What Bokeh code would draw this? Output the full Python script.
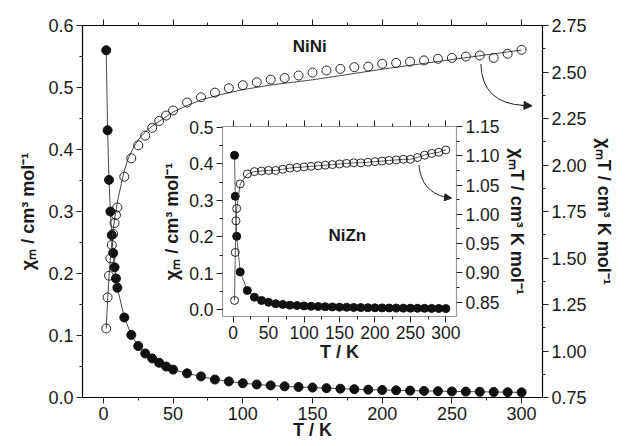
from bokeh.plotting import figure
from bokeh.models import (Range1d, LinearAxis, FixedTicker, NumeralTickFormatter,
                          Arrow, NormalHead, Label)
from bokeh.layouts import column
from bokeh.embed import file_html
from bokeh.resources import INLINE

# ---------------- data ----------------
T_main = [2, 3, 4, 5, 6, 7, 8, 9, 10, 15, 20, 25, 30, 35, 40, 45, 50,
          60, 70, 80, 90, 100, 110, 120, 130, 140, 150, 160, 170, 180, 190,
          200, 210, 220, 230, 240, 250, 260, 270, 280, 290, 300]
chi_main = [0.560, 0.431, 0.351, 0.300, 0.262, 0.233, 0.210, 0.192, 0.177,
            0.129, 0.101, 0.083, 0.071, 0.063, 0.056, 0.050, 0.045,
            0.039, 0.034, 0.029, 0.026, 0.023, 0.021, 0.0195, 0.018, 0.017,
            0.016, 0.0151, 0.0142, 0.0134, 0.0127, 0.0121, 0.0116, 0.0111,
            0.0106, 0.0102, 0.0098, 0.0095, 0.0092, 0.0089, 0.0086, 0.0083]
chiT_main = [1.121, 1.288, 1.405, 1.498, 1.570, 1.629, 1.688, 1.731, 1.772,
             1.937, 2.036, 2.106, 2.158, 2.200, 2.237, 2.266, 2.293,
             2.336, 2.364, 2.389, 2.413, 2.429, 2.445, 2.459, 2.468, 2.481,
             2.497, 2.508, 2.517, 2.526, 2.529, 2.544, 2.549, 2.556, 2.562,
             2.571, 2.576, 2.583, 2.589, 2.576, 2.598, 2.619]
T_fit = [2, 3, 4, 5, 6, 7, 8, 10, 12, 15, 18, 22, 26, 31, 36, 42, 50, 60,
         70, 85, 100, 120, 150, 200, 250, 300]
chiT_fit = [1.12, 1.27, 1.40, 1.50, 1.58, 1.65, 1.71, 1.80, 1.87, 1.97, 2.04,
            2.10, 2.145, 2.185, 2.215, 2.245, 2.285, 2.32, 2.35, 2.38, 2.405,
            2.43, 2.458, 2.515, 2.567, 2.618]

T_in_chi = [2, 3, 5, 10, 20, 30, 40, 50, 60, 70, 80, 90, 100, 110, 120, 130,
            140, 150, 160, 170, 180, 190, 200, 210, 220, 230, 240, 250, 260,
            270, 280, 290, 300]
chi_in = [0.423, 0.311, 0.2015, 0.104, 0.053, 0.035, 0.026, 0.021, 0.017,
          0.015, 0.013, 0.012, 0.011, 0.0100, 0.0093, 0.0087, 0.0081, 0.0076,
          0.0072, 0.0068, 0.0064, 0.0061, 0.0058, 0.0056, 0.0053, 0.0051,
          0.0049, 0.0047, 0.0045, 0.0043, 0.0041, 0.0039, 0.0037]
T_in_chiT = [2, 3, 4, 5, 10, 20, 30, 40, 50, 60, 70, 80, 90, 100, 110, 120,
             130, 140, 150, 160, 170, 180, 190, 200, 210, 220, 230, 240, 250,
             260, 270, 280, 290, 300]
chiT_in = [0.853, 0.935, 0.989, 1.010, 1.052, 1.069, 1.073, 1.074, 1.075,
           1.075, 1.077, 1.079, 1.080, 1.081, 1.082, 1.083, 1.084, 1.085,
           1.086, 1.087, 1.088, 1.088, 1.089, 1.090, 1.091, 1.092, 1.093,
           1.094, 1.094, 1.097, 1.101, 1.104, 1.106, 1.110]

x_ticks = [0, 50, 100, 150, 200, 250, 300]
x_minor = [-25, 25, 75, 125, 175, 225, 275, 325]
main_left_ticks = [0.0, 0.1, 0.2, 0.3, 0.4, 0.5, 0.6]
main_right_ticks = [0.75, 1.00, 1.25, 1.50, 1.75, 2.00, 2.25, 2.50, 2.75]
in_left_ticks = [0.0, 0.1, 0.2, 0.3, 0.4, 0.5]
in_right_ticks = [0.85, 0.90, 0.95, 1.00, 1.05, 1.10, 1.15]

FONT = "Liberation Sans"
TXT = "#1a1a1a"


def style_axis(ax, ticks, minor, fmt=None, color="black", font="18px",
               title_font="18px"):
    ax.ticker = FixedTicker(ticks=ticks, minor_ticks=minor)
    if fmt:
        ax.formatter = NumeralTickFormatter(format=fmt)
    ax.axis_line_color = color
    ax.axis_line_width = 1.2
    ax.major_tick_line_color = "#222"
    ax.minor_tick_line_color = "#222"
    ax.major_tick_out = 6
    ax.major_tick_in = 0
    ax.minor_tick_out = 3
    ax.minor_tick_in = 0
    ax.major_label_text_font = FONT
    ax.major_label_text_font_size = font
    ax.major_label_text_color = TXT
    ax.axis_label_text_font = FONT
    ax.axis_label_text_font_style = "bold"
    ax.axis_label_text_font_size = title_font
    ax.axis_label_text_color = TXT
    ax.major_label_standoff = 3


# ---------------- main figure ----------------
p = figure(frame_width=460, frame_height=372, output_backend="svg",
           toolbar_location=None,
           x_range=Range1d(-15, 315), y_range=Range1d(0, 0.6),
           min_border_left=82, min_border_right=60, min_border_top=25,
           min_border_bottom=49)
p.extra_y_ranges = {"r": Range1d(0.75, 2.75)}
p.grid.visible = False
p.outline_line_color = None

style_axis(p.xaxis[0], x_ticks, x_minor)
p.xaxis[0].axis_label = "T / K"
p.xaxis[0].axis_label_standoff = -3
style_axis(p.yaxis[0], main_left_ticks,
           [0.05, 0.15, 0.25, 0.35, 0.45, 0.55], "0.0")
p.yaxis[0].axis_label = "χₘ / cm³ mol⁻¹"
p.yaxis[0].axis_label_standoff = 7

ax_r = LinearAxis(y_range_name="r")
style_axis(ax_r, main_right_ticks,
           [0.875, 1.125, 1.375, 1.625, 1.875, 2.125, 2.375, 2.625], "0.00")
ax_r.axis_label = "χₘT / cm³ K mol⁻¹"
ax_r.axis_label_standoff = 4
p.add_layout(ax_r, "right")

ax_t = LinearAxis()
style_axis(ax_t, x_ticks, x_minor)
ax_t.major_label_overrides = {t: "" for t in x_ticks}
p.add_layout(ax_t, "above")

p.line(T_main, chi_main, line_color="#333", line_width=0.9)
p.scatter(T_main, chi_main, size=9, marker="circle", fill_color="#111",
          line_color="#111")
p.line(T_fit, chiT_fit, y_range_name="r", line_color="#333", line_width=0.9)
p.scatter(T_main, chiT_main, y_range_name="r", size=9, marker="circle",
          fill_alpha=0, line_color="#111", line_width=0.9)

p.quadratic(x0=[270.8], y0=[0.538], x1=[302.0], y1=[0.471], cx=[271.5],
            cy=[0.474], line_color="#222", line_width=1)
p.add_layout(Arrow(end=NormalHead(size=8, fill_color="#222",
                                  line_color="#222"),
                   x_start=300, y_start=0.4712, x_end=307.5, y_end=0.4705,
                   line_color="#222", line_width=1))

p.add_layout(Label(x=148, y=0.566, text="NiNi", text_font=FONT,
                   text_font_style="bold", text_font_size="17px",
                   text_color=TXT, text_align="center",
                   text_baseline="middle"))

# ---------------- inset figure ----------------
q = figure(frame_width=234, frame_height=190, output_backend="svg",
           toolbar_location=None,
           x_range=Range1d(-15, 315), y_range=Range1d(-0.018, 0.502),
           min_border_left=82, min_border_right=60, min_border_top=10,
           min_border_bottom=56,
           styles={"position": "absolute", "left": "140px", "top": "116px"})
q.background_fill_alpha = 0
q.border_fill_alpha = 0
q.extra_y_ranges = {"r": Range1d(0.8256, 1.15)}
q.grid.visible = False
q.outline_line_color = None

GR = "#9a9a9a"
IF = "17.5px"
style_axis(q.xaxis[0], x_ticks, x_minor, color=GR, font=IF)
q.xaxis[0].axis_label = "T / K"
q.xaxis[0].axis_label_standoff = 0
style_axis(q.yaxis[0], in_left_ticks, [0.05, 0.15, 0.25, 0.35, 0.45], "0.0",
           color=GR, font=IF)
q.yaxis[0].axis_label = "χₘ / cm³ mol⁻¹"
q.yaxis[0].axis_label_standoff = 4
qr = LinearAxis(y_range_name="r")
style_axis(qr, in_right_ticks, [0.875, 0.925, 0.975, 1.025, 1.075, 1.125],
           "0.00", color=GR, font=IF)
qr.axis_label = "χₘT / cm³ K mol⁻¹"
qr.axis_label_standoff = 4
q.add_layout(qr, "right")
qt = LinearAxis()
style_axis(qt, x_ticks, x_minor, color=GR, font=IF)
qt.major_label_overrides = {t: "" for t in x_ticks}
q.add_layout(qt, "above")

q.line(T_in_chi, chi_in, line_color="#333", line_width=0.8)
q.scatter(T_in_chi, chi_in, size=8, marker="circle", fill_color="#111",
          line_color="#111")
q.line(T_in_chiT, chiT_in, y_range_name="r", line_color="#333",
       line_width=0.8)
q.scatter(T_in_chiT, chiT_in, y_range_name="r", size=8, marker="circle",
          fill_alpha=0, line_color="#111", line_width=0.9)

q.quadratic(x0=[262], y0=[1.0846], x1=[300], y1=[1.029], cx=[265],
            cy=[1.039], line_color="#222", line_width=1, y_range_name="r")
q.add_layout(Arrow(end=NormalHead(size=7, fill_color="#222",
                                  line_color="#222"),
                   x_start=298, y_start=1.0292, x_end=308, y_end=1.0276,
                   line_color="#222", line_width=1, y_range_name="r"))
q.add_layout(Label(x=161, y=0.204, text="NiZn", text_font=FONT,
                   text_font_style="bold", text_font_size="17px",
                   text_color=TXT, text_align="center",
                   text_baseline="middle"))

layout = column(p, q, styles={"position": "relative"})

open("out.html", "w").write(file_html(layout, INLINE))
